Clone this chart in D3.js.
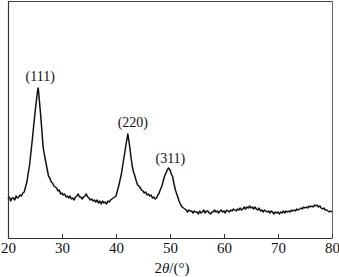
<!DOCTYPE html>
<html><head><meta charset="utf-8">
<script src="https://cdn.jsdelivr.net/npm/d3@7/dist/d3.min.js"></script>
<style>html,body{margin:0;padding:0;background:#fff;}</style>
</head><body>
<svg id="c" width="339" height="277"></svg>
<script>
const twoTheta = [20,20.25,20.5,20.75,21,21.25,21.5,21.75,22,22.25,22.5,22.75,23,23.25,23.5,23.75,24,24.25,24.5,24.75,25,25.25,25.5,25.6,25.75,26,26.25,26.5,26.75,27,27.25,27.5,27.75,28,28.25,28.5,28.75,29,29.25,29.5,29.75,30,30.25,30.5,30.75,31,31.25,31.5,31.75,32,32.25,32.5,32.75,33,33.25,33.5,33.75,34,34.25,34.5,34.75,35,35.25,35.5,35.75,36,36.25,36.5,36.75,37,37.25,37.5,37.75,38,38.25,38.5,38.75,39,39.25,39.5,39.75,40,40.25,40.5,40.75,41,41.25,41.5,41.75,42,42.2,42.5,42.75,43,43.25,43.5,43.75,44,44.25,44.5,44.75,45,45.25,45.5,45.75,46,46.25,46.5,46.75,47,47.25,47.5,47.75,48,48.25,48.5,48.75,49,49.25,49.5,49.7,50,50.25,50.5,50.75,51,51.25,51.5,51.75,52,52.25,52.5,52.75,53,53.25,53.5,53.75,54,54.25,54.5,54.75,55,55.25,55.5,55.75,56,56.25,56.5,56.75,57,57.25,57.5,57.75,58,58.25,58.5,58.75,59,59.25,59.5,59.75,60,60.25,60.5,60.75,61,61.25,61.5,61.75,62,62.25,62.5,62.75,63,63.25,63.5,63.75,64,64.25,64.5,64.75,65,65.25,65.5,65.75,66,66.25,66.5,66.75,67,67.25,67.5,67.75,68,68.25,68.5,68.75,69,69.25,69.5,69.75,70,70.25,70.5,70.75,71,71.25,71.5,71.75,72,72.25,72.5,72.75,73,73.25,73.5,73.75,74,74.25,74.5,74.75,75,75.25,75.5,75.75,76,76.25,76.5,76.75,77,77.25,77.5,77.75,78,78.25,78.5,78.75,79,79.25,79.5,79.75,80];
const intensity = [39,41,37,40,40,38,42,40,41,43,42,45,46,51,56,65,73,86,98,112,125,137,148,150,141,126,109,91,83,76,69,62,60,56,55,52,51,50,47,48,44,45,43,44,41,42,40,42,39,40,38,41,42,44,41,41,39,41,42,44,41,40,38,39,37,38,36,38,35,37,34,37,35,36,34,37,36,38,39,40,41,42,47,52,58,64,73,81,90,98,104,93,82,72,66,62,57,53,52,50,48,47,45,46,43,44,42,43,40,41,39,40,43,45,49,52,57,62,65,68,70,68,64,61,54,48,44,40,36,33,31,30,29,28,26,28,27,27,25,27,26,26,24,27,25,26,28,25,27,27,25,24,26,26,28,26,27,25,27,28,26,27,25,28,27,26,28,27,29,28,27,29,28,30,28,29,31,29,31,30,32,30,31,29,31,29,28,30,27,28,26,28,27,26,27,25,27,26,24,26,25,26,24,26,25,27,25,27,26,27,26,28,27,28,27,29,28,29,30,29,31,30,31,30,32,31,32,31,33,32,33,31,32,30,29,30,28,28,27,26,27,26];
const xTicks = [20,30,40,50,60,70,80];
const peakLabels = ["(111)","(220)","(311)"];
const peakPos = [25.6,42.2,49.7];
const peakInt = [150,104,70];

const svg = d3.select("#c");
const L=8,R=332,T=1,B=238;
const x = d3.scaleLinear().domain([20,80]).range([L,R]);
const y = d3.scaleLinear().domain([0,237]).range([B,T]);
const font = "'Liberation Serif','Times New Roman',serif";

svg.append("line").attr("x1",L).attr("x2",R).attr("y1",T+0.5).attr("y2",T+0.5).attr("stroke","#444").attr("stroke-width",1);
svg.append("line").attr("x1",R+0.5).attr("x2",R+0.5).attr("y1",T).attr("y2",B).attr("stroke","#666").attr("stroke-width",1);

const data = twoTheta.map((t,i)=>[t,intensity[i]]);
svg.append("path").datum(data)
  .attr("fill","none").attr("stroke","#111").attr("stroke-width",1.5).attr("stroke-linejoin","round")
  .attr("d", d3.line().x(d=>x(d[0])).y(d=>y(d[1])));

const ax = svg.append("g").attr("transform",`translate(0,${B})`)
  .call(d3.axisBottom(x).tickValues(xTicks).tickSizeInner(-4).tickSizeOuter(0).tickPadding(7).tickFormat(d3.format("d")));
ax.select(".domain").attr("stroke","#333").attr("stroke-width",1.2);
ax.selectAll(".tick line").attr("stroke","#333");
ax.selectAll(".tick text").attr("font-family",font).attr("font-size",15).attr("fill","#111").attr("dy",null).attr("y",15);

const yax = svg.append("g").attr("transform",`translate(${L},0)`)
  .call(d3.axisLeft(y).tickValues([]).tickSizeOuter(0));
yax.select(".domain").attr("stroke","#333").attr("stroke-width",1.2);

const title = svg.append("text").attr("x",172).attr("y",273).attr("text-anchor","middle")
  .attr("font-family",font).attr("font-size",15).attr("fill","#111");
title.append("tspan").text("2");
title.append("tspan").attr("font-style","italic").text("θ");
title.append("tspan").text("/(°)");

const offs=[7,7,5];
svg.selectAll("text.pk").data(peakLabels).enter().append("text").attr("class","pk")
  .attr("x",(d,i)=>x(peakPos[i])+[2,5,2][i]).attr("y",(d,i)=>y(peakInt[i])-offs[i])
  .attr("text-anchor","middle").attr("font-family",font).attr("font-size",14).attr("fill","#111")
  .text(d=>d);
</script>
</body></html>
